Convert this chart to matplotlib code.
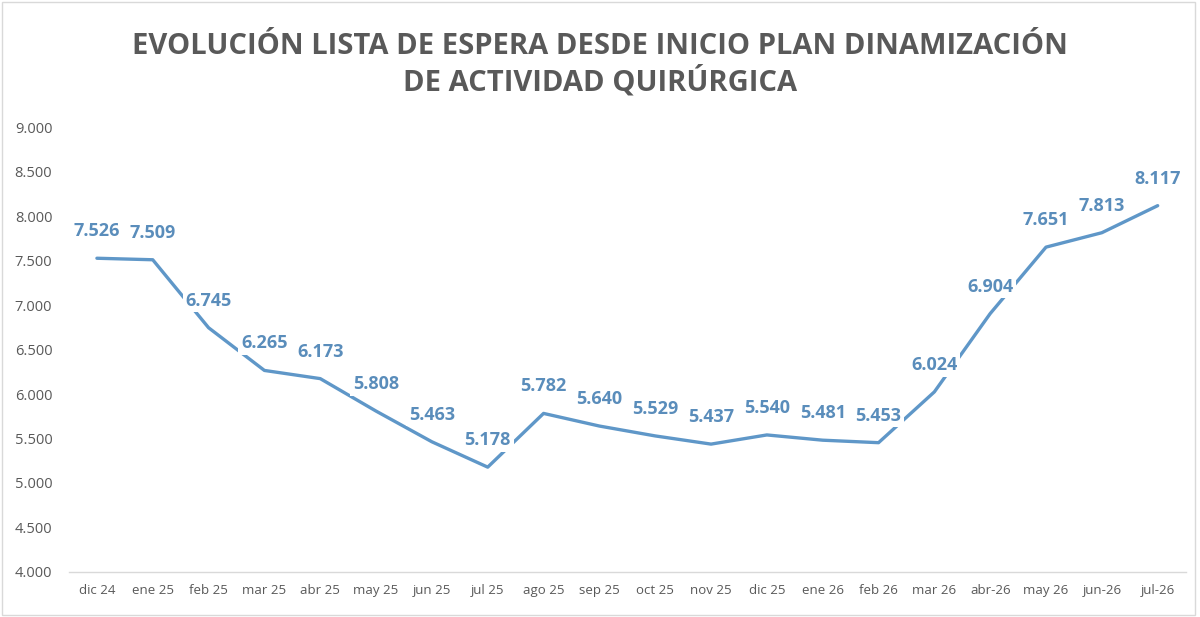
import matplotlib
matplotlib.use("Agg")
import matplotlib.pyplot as plt
from matplotlib.ticker import FuncFormatter, MultipleLocator

categories = ["dic 24", "ene 25", "feb 25", "mar 25", "abr 25", "may 25", "jun 25",
              "jul 25", "ago 25", "sep 25", "oct 25", "nov 25", "dic 25", "ene 26",
              "feb 26", "mar 26", "abr-26", "may 26", "jun-26", "jul-26"]
values = [7526, 7509, 6745, 6265, 6173, 5808, 5463, 5178, 5782, 5640, 5529, 5437,
          5540, 5481, 5453, 6024, 6904, 7651, 7813, 8117]
title = "EVOLUCIÓN LISTA DE ESPERA DESDE INICIO PLAN DINAMIZACIÓN\nDE ACTIVIDAD QUIRÚRGICA"

def fmt(v):
    return f"{int(v):,}".replace(",", ".")

plt.rcParams['font.family'] = ['Open Sans', 'DejaVu Sans']

fig = plt.figure(figsize=(12, 6.17), dpi=100)
ax = fig.add_axes([0.0575, 0.073, 0.9305, 0.721])

line_color = "#5F97C8"
label_color = "#5A8DBB"
x = list(range(len(categories)))
ax.plot(x, values, color=line_color, lw=2.4, solid_capstyle='round', zorder=2)

for xi, v in zip(x, values):
    ax.annotate(fmt(v), (xi, v), xytext=(0, 19.5), textcoords='offset points',
                ha='center', va='center', fontsize=13, fontweight='bold',
                color=label_color, zorder=3,
                bbox=dict(boxstyle='square,pad=0.15', fc='white', ec='none'))

ax.set_xlim(-0.5, len(categories) - 0.5)
ax.set_ylim(4000, 9000)
ax.yaxis.set_major_locator(MultipleLocator(500))
ax.yaxis.set_major_formatter(FuncFormatter(lambda v, p: fmt(v)))
ax.set_xticks(x)
ax.set_xticklabels(categories)
ax.tick_params(axis='both', length=0, colors="#595959")
ax.tick_params(axis='x', pad=9, labelsize=9.5)
ax.tick_params(axis='y', pad=12, labelsize=10.5)
for s in ['top', 'right', 'left']:
    ax.spines[s].set_visible(False)
ax.spines['bottom'].set_color("#D9D9D9")
ax.spines['bottom'].set_linewidth(1)

fig.text(0.5, 0.895, title, ha='center', va='center', fontsize=21, fontweight='bold',
         color="#595959", linespacing=1.2)

fig.patches.append(plt.Rectangle((0.002, 0.003), 0.994, 0.994, transform=fig.transFigure,
                                 fill=False, ec="#D9D9D9", lw=1))

fig.savefig("out.png", dpi=100, facecolor='white')
